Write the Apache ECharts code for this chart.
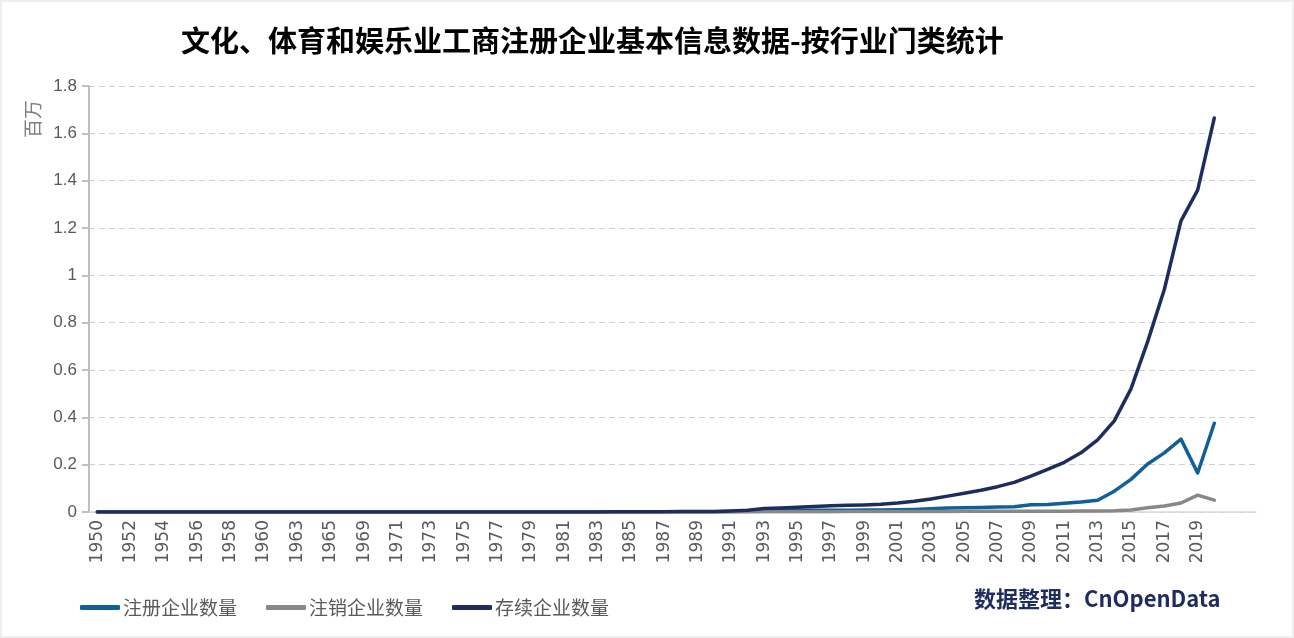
<!DOCTYPE html>
<html>
<head>
<meta charset="utf-8">
<script src="https://cdn.jsdelivr.net/npm/echarts@6/dist/echarts.min.js"></script>
<style>
html,body{margin:0;padding:0;background:#efefef;}
#c{position:absolute;left:2px;top:2px;width:1290px;height:634px;background:#fff;}
</style>
</head>
<body>
<div id="c"></div>
<script>
const categories = [
 '1950','1951','1952','1953','1954','1955','1956','1957','1958','1959','1960',
 '1962','1963','1964','1965','1967',
 '1969','1970','1971','1972','1973','1974','1975','1976','1977','1978','1979',
 '1980','1981','1982','1983','1984','1985','1986','1987','1988','1989',
 '1990','1991','1992','1993','1994','1995','1996','1997','1998','1999',
 '2000','2001','2002','2003','2004','2005','2006','2007','2008','2009',
 '2010','2011','2012','2013','2014','2015','2016','2017','2018','2019','2020',
 '',''
];
const registered = [
 0.0001,0.0001,0.0001,0.0001,0.0001,0.0001,0.0001,0.0001,0.0001,0.0001,0.0001,
 0.0001,0.0001,0.0001,0.0001,0.0001,
 0.0001,0.0001,0.0001,0.0001,0.0001,0.0001,0.0001,0.0001,0.0001,0.0001,0.0001,
 0.0002,0.0002,0.0002,0.0003,0.0004,0.0005,0.0005,0.0006,0.0007,0.0008,
 0.001,0.002,0.004,0.007,0.006,0.006,0.007,0.007,0.007,0.008,
 0.008,0.009,0.011,0.014,0.017,0.018,0.019,0.021,0.022,0.031,
 0.032,0.037,0.042,0.05,0.088,0.138,0.203,0.25,0.308,0.165,0.375,
 null,null
];
const cancelled = [
 0,0,0,0,0,0,0,0,0,0,0,
 0,0,0,0,0,
 0,0,0,0,0,0,0,0,0,0,0,
 0,0,0,0,0,0.0001,0.0001,0.0001,0.0001,0.0002,
 0.0003,0.0004,0.0005,0.0006,0.0008,0.001,0.0012,0.0014,0.0016,0.0018,
 0.002,0.002,0.0022,0.0024,0.0026,0.0028,0.003,0.003,0.003,0.003,
 0.003,0.003,0.004,0.004,0.005,0.008,0.018,0.025,0.038,0.071,0.05,
 null,null
];
const existing = [
 0.0001,0.0001,0.0001,0.0001,0.0001,0.0001,0.0001,0.0001,0.0001,0.0001,0.0001,
 0.0001,0.0001,0.0001,0.0001,0.0001,
 0.0001,0.0001,0.0002,0.0002,0.0002,0.0002,0.0002,0.0002,0.0002,0.0002,0.0002,
 0.0003,0.0003,0.0004,0.0005,0.0008,0.001,0.0012,0.0014,0.0017,0.002,
 0.0025,0.004,0.007,0.015,0.017,0.02,0.023,0.026,0.028,0.03,
 0.033,0.038,0.045,0.055,0.067,0.079,0.092,0.107,0.125,0.152,
 0.18,0.21,0.25,0.305,0.385,0.52,0.72,0.94,1.23,1.36,1.665,
 null,null
];
const seriesNames = ['注册企业数量','注销企业数量','存续企业数量'];
const seriesColors = ['#0f5f98','#888888','#1f2d5e'];
const yTicks = {min:0, max:1.8, interval:0.2};

const chart = echarts.init(document.getElementById('c'));
const data = [registered, cancelled, existing];
chart.setOption({
  animation:false,
  backgroundColor:'#ffffff',
  title:{
    text:'文化、体育和娱乐业工商注册企业基本信息数据-按行业门类统计',
    left:174, top:19,
    textStyle:{fontSize:29,fontWeight:'bold',color:'#000',fontFamily:'Noto Sans CJK SC'}
  },
  legend:{
    data:seriesNames,
    left:73, top:591,
    icon:'roundRect',
    itemWidth:40, itemHeight:5,
    itemGap:29,
    textStyle:{fontSize:19,color:'#595959',fontFamily:'Noto Sans CJK SC',padding:[0,0,0,-2]}
  },
  graphic:[
    {type:'text', left:21, top:98, rotation:Math.PI/2,
     style:{text:'百万', fontSize:19, fill:'#7f7f7f', fontFamily:'Noto Sans CJK SC'}},
    {type:'text', left:972, top:586,
     style:{text:'数据整理：CnOpenData', fontSize:22, fontWeight:'bold', fill:'#1f2d5e', fontFamily:'Noto Sans CJK SC'}}
  ],
  grid:{left:87, right:36, top:84, bottom:124, containLabel:false},
  xAxis:{
    type:'category',
    data:categories,
    boundaryGap:true,
    axisLine:{lineStyle:{color:'#d9d9d9',width:1.5}},
    axisTick:{show:false},
    axisLabel:{interval:1, rotate:90, fontSize:17, color:'#595959', margin:8,
      fontFamily:'DejaVu Sans, Noto Sans CJK SC'}
  },
  yAxis:{
    type:'value',
    min:yTicks.min, max:yTicks.max, interval:yTicks.interval,
    axisLine:{show:true, lineStyle:{color:'#bfbfbf',width:2}},
    axisTick:{show:true, length:7, lineStyle:{color:'#bfbfbf',width:2}},
    axisLabel:{fontSize:17, color:'#595959', margin:12,
      fontFamily:'Liberation Sans, Noto Sans CJK SC',
      formatter:v=>String(Math.round(v*10)/10)},
    splitLine:{lineStyle:{color:'#d0d0d0',type:[6,4],width:1.2}}
  },
  series:seriesNames.map((n,i)=>({
    name:n, type:'line', data:data[i], showSymbol:false, symbol:'none',
    lineStyle:{color:seriesColors[i], width:3.5, cap:'round', join:'round'},
    itemStyle:{color:seriesColors[i]}
  }))
});
</script>
</body>
</html>
